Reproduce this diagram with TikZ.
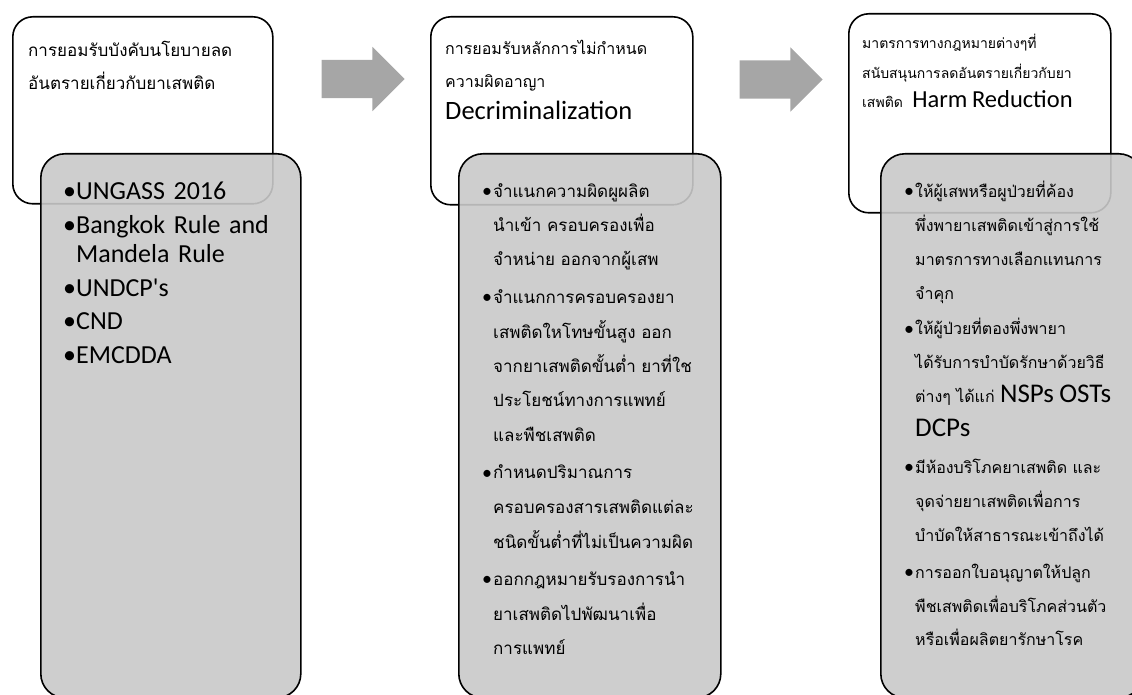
\documentclass[tikz,border=0pt]{standalone}
\usepackage{fontspec}
\setmainfont{Carlito}
\newfontfamily\thai[Script=Thai]{Loma}
\usetikzlibrary{shapes.arrows}

\tikzset{
  topbox/.style={draw, line width=1.6pt, rounded corners=20pt, fill=white, inner sep=0pt, anchor=north west},
  listbox/.style={draw, line width=1.6pt, rounded corners=24pt, fill={rgb,255:red,201;green,201;blue,201}, fill opacity=0.9, inner sep=0pt, anchor=north west},
  flow/.style={single arrow, fill={rgb,255:red,166;green,166;blue,166}, inner xsep=0pt, inner ysep=19pt, minimum height=83pt, single arrow head extend=13pt},
  txt/.style={anchor=base west, inner sep=0pt, align=left, text width=#1},
}
\newcommand{\bul}{\makebox[10pt][l]{\rmfamily\fontsize{20}{18}\selectfont\hspace{-1pt}\raisebox{-0.4pt}{•}}}
\newcommand{\ind}{\hspace*{10pt}}

\begin{document}
\begin{tikzpicture}[x=1pt,y=-1pt]
\useasboundingbox (0,0) rectangle (1132,695);

% boxes
\node[topbox, minimum width=260pt, minimum height=187pt] (w1) at (12,16) {};
\node[listbox, minimum width=260pt, minimum height=544pt] (g1) at (40,153) {};
\node[topbox, minimum width=262pt, minimum height=188pt] (w2) at (430,16) {};
\node[listbox, minimum width=262pt, minimum height=544pt] (g2) at (458,153) {};
\node[topbox, minimum width=262pt, minimum height=199pt] (w3) at (848,13) {};
\node[listbox, minimum width=262pt, minimum height=544pt] (g3) at (880,153) {};

% arrows
\node[flow] (a1) at (353.5,79) {};
\node[flow] (a2) at (771.5,79.5) {};

% headings
\node[txt=250pt, font=\thai\fontsize{17}{33}\selectfont] (t1) at (28,57)
  {การยอมรับบังคับนโยบายลด\\อันตรายเกี่ยวกับยาเสพติด};
\node[txt=250pt, font=\fontsize{16}{32.5}\selectfont] (t2) at (445,55)
  {{\thai การยอมรับหลักการไม่กำหนด}\\{\thai ความผิดอาญา}\\{\fontsize{26.5}{32}\selectfont Decriminalization}};
\node[txt=250pt, font=\fontsize{14}{29.5}\selectfont] (t3) at (862,49)
  {{\thai มาตรการทางกฎหมายต่างๆที่}\\{\thai สนับสนุนการลดอันตรายเกี่ยวกับยา}\\{\thai เสพติด}\ \ {\fontsize{24.5}{29.5}\selectfont Harm Reduction}};

% lists
\node[txt=230pt, font=\fontsize{26}{29.5}\selectfont] (l1) at (63,200)
  {•UNGASS 2016\\[4pt]
   •Bangkok Rule and\\
   \hphantom{•}Mandela Rule\\[4pt]
   •UNDCP\textquotesingle s\\[4pt]
   •CND\\[4pt]
   •EMCDDA};
\node[txt=240pt, font=\thai\fontsize{17}{34.5}\selectfont] (l2) at (483,197)
  {\bul จำแนกความผิดผูผลิต\\
   \ind นำเข้า ครอบครองเพื่อ\\
   \ind จำหน่าย ออกจากผู้เสพ\\[3pt]
   \bul จำแนกการครอบครองยา\\
   \ind เสพติดใหโทษขั้นสูง ออก\\
   \ind จากยาเสพติดขั้นต่ำ ยาที่ใช\\
   \ind ประโยชน์ทางการแพทย์\\
   \ind และพืชเสพติด\\[3pt]
   \bul กำหนดปริมาณการ\\
   \ind ครอบครองสารเสพติดแต่ละ\\
   \ind ชนิดขั้นต่ำที่ไม่เป็นความผิด\\[3pt]
   \bul ออกกฎหมายรับรองการนำ\\
   \ind ยาเสพติดไปพัฒนาเพื่อ\\
   \ind การแพทย์};
\node[txt=240pt, font=\thai\fontsize{16}{34}\selectfont] (l3) at (905,197)
  {\bul ให้ผู้เสพหรือผูป่วยที่ค้อง\\
   \ind พึ่งพายาเสพติดเข้าสู่การใช้\\
   \ind มาตรการทางเลือกแทนการ\\
   \ind จำคุก\\[2pt]
   \bul ให้ผู้ป่วยที่ตองพึ่งพายา\\
   \ind ได้รับการบำบัดรักษาด้วยวิธี\\
   \ind ต่างๆ ได้แก่ {\rmfamily\fontsize{27}{34}\selectfont NSPs OSTs}\\
   \ind {\rmfamily\fontsize{27}{34}\selectfont DCPs}\\[2pt]
   \bul มีห้องบริโภคยาเสพติด และ\\
   \ind จุดจ่ายยาเสพติดเพื่อการ\\
   \ind บำบัดให้สาธารณะเข้าถึงได้\\[3pt]
   \bul การออกใบอนุญาตให้ปลูก\\
   \ind พืชเสพติดเพื่อบริโภคส่วนตัว\\
   \ind หรือเพื่อผลิตยารักษาโรค};
\end{tikzpicture}
\end{document}
